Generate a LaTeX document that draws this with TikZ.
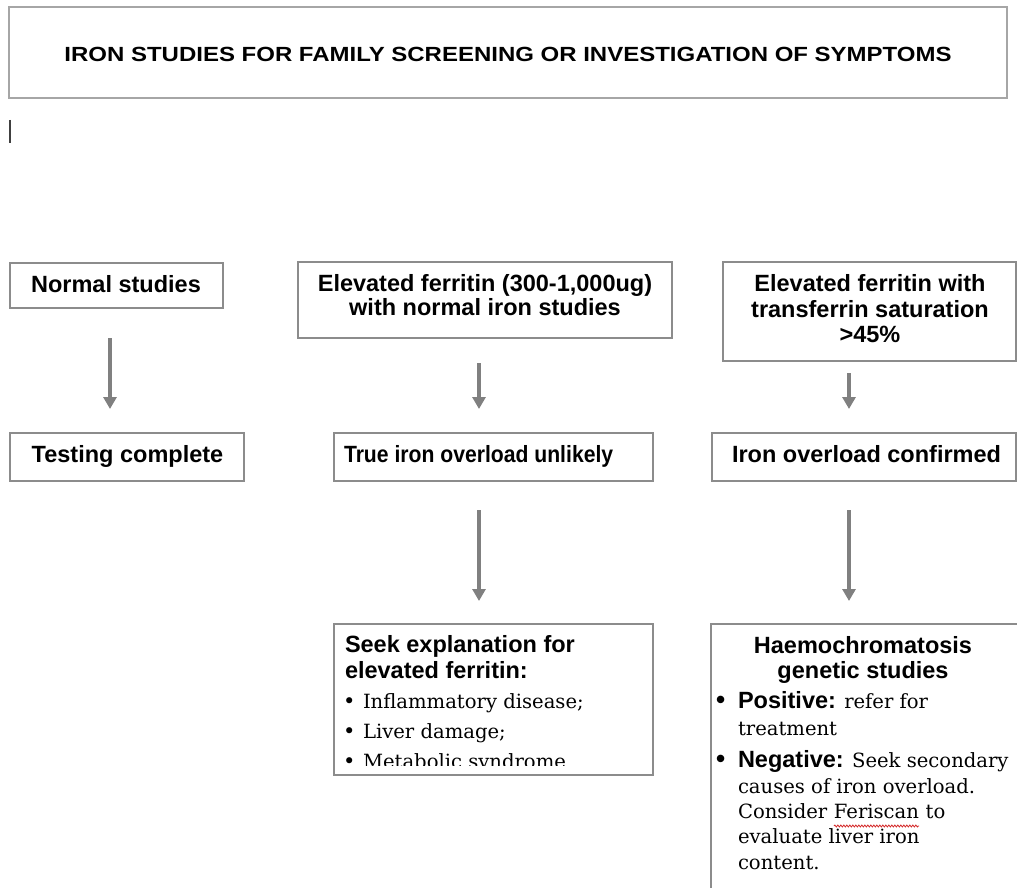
\documentclass[tikz,border=0pt]{standalone}
\usepackage{fontspec}
\setmainfont{DejaVu Serif}
\newfontfamily\arial{Liberation Sans}
\newfontfamily\arialwide{Liberation Sans}[FakeStretch=1.17]
\usetikzlibrary{arrows.meta,decorations.pathmorphing}
\definecolor{boxgray}{HTML}{8C8C8C}
\definecolor{titlegray}{HTML}{A6A6A6}
\definecolor{arrgray}{HTML}{808080}
\definecolor{wavered}{HTML}{D42A2A}
\newcommand\wavy[1]{\tikz[baseline=(w.base),x=1pt,y=1pt]{\node[inner sep=0pt,outer sep=0pt,anchor=base](w){#1};\draw[wavered,line width=0.8pt,decorate,decoration={snake,amplitude=1pt,segment length=3pt}]([yshift=-8pt]w.base west)--([yshift=-8pt]w.base east);}}
\newcommand\bul{\makebox[20pt][l]{\fontsize{21}{21}\selectfont\textbullet}}
\newcommand\bbul{\makebox[22pt][l]{\arial\bfseries\fontsize{26}{26}\selectfont\textbullet}}
\tikzset{
  box/.style={draw=boxgray,line width=1.3pt,inner sep=0pt,outer sep=0pt,anchor=north west},
  arr/.style={draw=arrgray,line width=3.5pt,-{Triangle[width=13pt,length=12pt]}},
  bf/.style={font=\arial\bfseries\fontsize{23.5}{25.5}\selectfont,inner sep=0pt,outer sep=0pt,anchor=base},
  bfl/.style={bf,anchor=base west},
  sf/.style={font=\fontsize{19.6}{25.5}\selectfont,inner sep=0pt,outer sep=0pt,anchor=base west},
}
\begin{document}
\begin{tikzpicture}[x=1pt,y=-1pt]
\useasboundingbox (0,0) rectangle (1017,888);
\clip (0,0) rectangle (1017,888);
% boxes
\node[box,draw=titlegray,minimum width=998pt,minimum height=91pt] (title) at (9,7) {};
\node[box,minimum width=213pt,minimum height=45pt] (normal) at (10,263) {};
\node[box,minimum width=234pt,minimum height=48pt] (testing) at (10,433) {};
\node[box,minimum width=374pt,minimum height=76pt] (elev) at (298,262) {};
\node[box,minimum width=319pt,minimum height=48pt] (trueio) at (334,433) {};
\node[box,minimum width=319pt,minimum height=151pt] (seek) at (334,624) {};
\node[box,minimum width=293pt,minimum height=99pt] (elevt) at (723,262) {};
\node[box,minimum width=304pt,minimum height=48pt] (iconf) at (712,433) {};
\node[box,minimum width=330pt,minimum height=300pt] (haemo) at (711,624) {};
% cursor mark
\draw[line width=1.5pt,black!75] (10,120) -- (10,143);
% title
\node[bf,font=\arialwide\bfseries\fontsize{20.5}{22}\selectfont] (titleT) at (508,62) {IRON STUDIES FOR FAMILY SCREENING OR INVESTIGATION OF SYMPTOMS};
% texts
\node[bf] (normalT) at (116,292) {Normal studies};
\node[bf] (testT) at (127.5,462) {Testing complete};
\node[bf] (elevT1) at (485,291) {Elevated ferritin (300-1,000ug)};
\node[bf] (elevT2) at (485,315.5) {with normal iron studies};
\node[bf] (elevtT1) at (870,291) {Elevated ferritin with};
\node[bf] (elevtT2) at (870,317) {transferrin saturation};
\node[bf] (elevtT3) at (870,342) {>45\%};
\node[bfl] (trueT) at (344,462) {\scalebox{0.9}[1]{True iron overload unlikely}};
\node[bfl] (iconfT) at (732,462) {Iron overload confirmed};
% seek box
\node[bfl] (seekT1) at (345,652) {Seek explanation for};
\node[bfl] (seekT2) at (345,678) {elevated ferritin:};
\node[sf] (seekB1) at (343,708) {\bul Inflammatory disease;};
\node[sf] (seekB2) at (343,738) {\bul Liver damage;};
\begin{scope}
\clip (336,626) rectangle (651,765);
\node[sf] (seekB3) at (343,768) {\bul Metabolic syndrome};
\end{scope}
% haemo box
\node[bf] (haemoT1) at (863,653) {Haemochromatosis};
\node[bf] (haemoT2) at (863,678) {genetic studies};
\node[sf] (haemoB1) at (716,708) {\bbul{\arial\bfseries\fontsize{23.5}{25.5}\selectfont Positive:} refer for};
\node[sf] (haemoB1b) at (738,735) {treatment};
\node[sf] (haemoB2) at (716,767) {\bbul{\arial\bfseries\fontsize{23.5}{25.5}\selectfont Negative:} Seek secondary};
\node[sf] (haemoB2b) at (738,793) {causes of iron overload.};
\node[sf] (haemoB2c) at (738,818) {Consider \wavy{Feriscan} to};
\node[sf] (haemoB2d) at (738,843) {evaluate liver iron};
\node[sf] (haemoB2e) at (738,869) {content.};
% arrows
\draw[arr,shorten <=30pt,shorten >=24pt] (normal.south -| 110,0) -- (testing.north -| 110,0);
\draw[arr,shorten <=25pt,shorten >=24pt] (elev.south -| 479,0) -- (trueio.north -| 479,0);
\draw[arr,shorten <=29pt,shorten >=23pt] (trueio.south -| 479,0) -- (seek.north -| 479,0);
\draw[arr,shorten <=12pt,shorten >=24pt] (elevt.south -| 849,0) -- (iconf.north -| 849,0);
\draw[arr,shorten <=29pt,shorten >=23pt] (iconf.south -| 849,0) -- (haemo.north -| 849,0);
\end{tikzpicture}
\end{document}
